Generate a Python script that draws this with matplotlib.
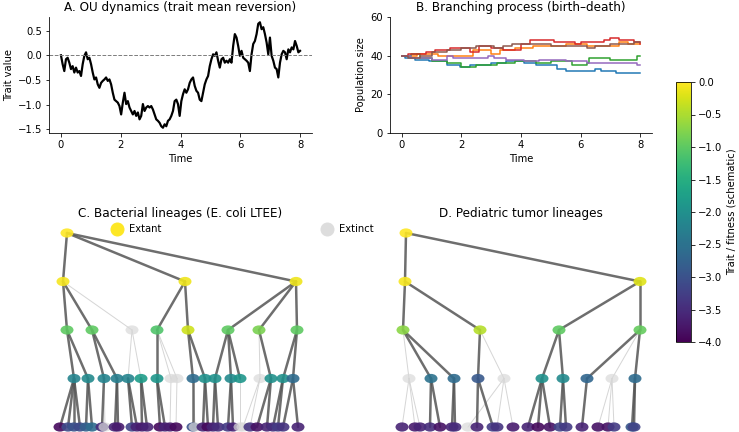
import numpy as np
import matplotlib
matplotlib.use("Agg")
import matplotlib.pyplot as plt
from matplotlib.patches import Ellipse
from matplotlib.lines import Line2D

# --- A: OU trait path (evenly spaced in time) ---
ou_values = [0.0, -0.18, -0.32, -0.08, -0.05, -0.15, -0.28, -0.22, -0.35, -0.25, -0.35, -0.32,
             -0.42, -0.18, -0.01, 0.06, -0.08, -0.05, -0.18, -0.35, -0.49, -0.45, -0.59, -0.66,
             -0.56, -0.52, -0.49, -0.45, -0.52, -0.49, -0.59, -0.76, -0.9, -0.93, -0.96, -1.03,
             -1.2, -0.96, -0.76, -0.99, -0.93, -1.06, -1.13, -1.2, -1.13, -1.23, -1.16, -1.3,
             -1.23, -0.99, -1.13, -1.06, -1.03, -1.06, -1.03, -1.1, -1.2, -1.3, -1.33, -1.37,
             -1.44, -1.47, -1.4, -1.44, -1.33, -1.3, -1.23, -1.13, -0.93, -0.9, -0.99, -1.23,
             -0.93, -0.79, -0.69, -0.76, -0.69, -0.56, -0.49, -0.45, -0.62, -0.72, -0.76, -0.9,
             -0.93, -0.76, -0.59, -0.49, -0.42, -0.22, -0.08, 0.02, -0.01, 0.06, -0.11, -0.25,
             -0.08, -0.05, -0.15, -0.11, -0.15, -0.08, -0.15, 0.19, 0.43, 0.36, 0.19, -0.01,
             0.09, -0.05, -0.08, -0.11, -0.15, -0.32, 0.02, 0.23, 0.29, 0.43, 0.64, 0.67, 0.53,
             0.57, 0.43, 0.26, 0.02, 0.36, -0.01, -0.11, -0.25, -0.28, -0.45, -0.15, 0.02, 0.09,
             0.06, -0.08, 0.12, 0.06, 0.16, 0.12, 0.29, 0.19, 0.06, 0.09]
ou_time = np.linspace(0, 8, len(ou_values))

# --- B: birth-death population sizes (change points, step plot) ---
bd_blue_t = [0, 0.1, 0.45, 0.9, 1.5, 1.95, 2.3, 3.0, 3.5, 4.1, 4.5, 5.2, 5.5, 6.5, 6.7, 7.2, 8.0]
bd_blue_n = [40, 39, 38, 37, 35, 34, 35, 36, 37, 36, 35, 33, 32, 33, 32, 31, 31]
bd_orange_t = [0, 0.5, 1.2, 2.4, 3.0, 3.3, 3.8, 4.4, 5.5, 6.2, 7.3, 7.6, 8.0]
bd_orange_n = [40, 41, 40, 43, 41, 43, 44, 45, 46, 45, 47, 46, 46]
bd_green_t = [0, 0.3, 0.6, 1.0, 1.5, 2.0, 2.5, 3.2, 3.8, 4.5, 5.0, 5.7, 6.2, 6.3, 7.0, 7.9, 8.0]
bd_green_n = [40, 41, 39, 37, 36, 34, 35, 36, 37, 36, 37, 35, 36, 39, 38, 40, 40]
bd_red_t = [0, 0.2, 0.8, 1.1, 1.6, 2.3, 2.6, 3.0, 3.4, 4.0, 4.3, 5.1, 5.8, 6.0, 6.8, 7.0, 7.3, 7.8, 8.0]
bd_red_n = [40, 41, 42, 43, 44, 42, 45, 44, 43, 46, 48, 47, 46, 47, 48, 49, 48, 47, 46]
bd_purple_t = [0, 0.3, 1.0, 1.5, 1.7, 2.9, 3.1, 3.5, 4.1, 4.6, 5.5, 6.2, 7.9, 8.0]
bd_purple_n = [40, 39, 38, 40, 39, 40, 39, 38, 37, 38, 37, 36, 35, 35]
bd_brown_t = [0, 0.2, 0.6, 1.0, 1.5, 2.0, 2.5, 3.1, 3.4, 3.7, 5.0, 6.2, 6.5, 7.0, 7.8, 8.0]
bd_brown_n = [40, 39, 40, 42, 43, 44, 45, 44, 45, 46, 45, 44, 45, 46, 47, 47]

# --- C: bacterial lineage tree (layout x, depth, parent index, trait; nan = extinct) ---
nan = np.nan
c_x = [67, 63, 185, 296, 67, 92, 132, 157, 188, 228, 259, 297,
       74, 88, 104, 117, 128, 141, 157, 171, 177, 193, 205, 215, 231, 240, 260, 271, 283, 293,
       60, 68, 74, 80, 86, 92, 102, 105, 115, 118, 132, 137, 142, 147, 160, 165, 170, 176,
       193, 195, 203, 208, 213, 218, 228, 233, 240, 243, 250, 257, 267, 273, 278, 283, 298]
c_depth = [0, 1, 1, 1, 2, 2, 2, 2, 2, 2, 2, 2] + [3] * 18 + [4] * 35
c_parent = [-1, 0, 0, 0, 1, 1, 1, 2, 2, 3, 3, 3,
            4, 4, 5, 5, 6, 6, 7, 7, 7, 8, 8, 9, 9, 9, 10, 10, 11, 11,
            12, 12, 12, 12, 13, 13, 14, 14, 15, 15, 16, 16, 17, 17, 18, 18, 19, 20,
            21, 21, 22, 22, 23, 23, 24, 24, 25, 26, 26, 27, 27, 28, 28, 29, 29]
c_trait = [0.0, -0.05, -0.1, -0.1, -1.0, -1.0, nan, -1.1, -0.3, -1.0, -0.8, -1.0,
           -2.2, -2.1, -2.2, -2.3, -2.2, -1.8, -1.9, nan, nan, -2.6, -2.0, -2.0, -2.1, -1.9,
           nan, -2.0, -2.0, -2.6,
           -3.9, -3.1, -3.0, -3.1, -2.8, -2.6, -3.5, nan, -3.6, -3.7, -3.2, -3.6, -3.7, -3.6,
           -3.9, -3.6, -3.7, -3.9, -3.0, nan, -3.6, -3.9, -3.6, -3.5, -3.3, -3.6, nan, nan,
           -3.4, -3.8, -3.6, -3.5, -3.3, -3.4, -3.6]

# --- D: pediatric tumor tree ---
d_x = [406, 405, 640, 403, 480, 559, 640,
       409, 431, 454, 478, 504, 542, 563, 587, 612, 635,
       402, 415, 420, 430, 440, 452, 455, 468, 477, 493, 497, 513, 528, 538, 550, 560, 566,
       582, 598, 608, 614, 632, 634]
d_depth = [0, 1, 1, 2, 2, 2, 2] + [3] * 10 + [4] * 23
d_parent = [-1, 0, 0, 1, 1, 2, 2,
            3, 3, 3, 4, 4, 5, 5, 6, 6, 6,
            7, 7, 7, 8, 8, 9, 9, 11, 10, 10, 11, 11, 12, 12, 12, 13, 13,
            14, 15, 15, 15, 16, 16]
d_trait = [0.0, -0.05, -0.2, -0.7, -0.45, -1.0, -0.95,
           nan, -2.5, -2.6, -2.9, nan, -2.0, -2.1, -2.7, nan, -2.6,
           -3.6, -3.7, -3.6, -3.5, -3.8, -3.6, -3.5, nan, -3.6, -3.3, -3.4, -3.7, -3.6, -3.9,
           -3.8, -3.2, -3.3, -3.6, -3.8, -3.8, -3.3, -2.9, -3.2]

cmap = plt.get_cmap('viridis')
norm = plt.Normalize(-4, 0)

fig = plt.figure(figsize=(739 / 72, 432 / 72), dpi=72)

# top left: OU
ax_a = fig.add_axes([49 / 739, 1 - 133 / 432, 263 / 739, 116 / 432])
ax_a.plot(ou_time, ou_values, color='black', lw=2.2)
ax_a.axhline(0, color='gray', ls='--', lw=1)
ax_a.set_title('A. OU dynamics (trait mean reversion)')
ax_a.set_xlabel('Time')
ax_a.set_ylabel('Trait value')
ax_a.set_yticks([-1.5, -1.0, -0.5, 0.0, 0.5])

# top right: branching process
ax_b = fig.add_axes([390 / 739, 1 - 133 / 432, 262 / 739, 116 / 432])
for tt, nn in [(bd_blue_t, bd_blue_n), (bd_orange_t, bd_orange_n), (bd_green_t, bd_green_n),
               (bd_red_t, bd_red_n), (bd_purple_t, bd_purple_n), (bd_brown_t, bd_brown_n)]:
    ax_b.plot(tt, nn, drawstyle='steps-post', lw=1.5)
ax_b.set_ylim(0, 60)
ax_b.set_title('B. Branching process (birth\u2013death)')
ax_b.set_xlabel('Time')
ax_b.set_ylabel('Population size')

for ax in (ax_a, ax_b):
    ax.spines['top'].set_visible(False)
    ax.spines['right'].set_visible(False)
    ax.set_xticks([0, 2, 4, 6, 8])


def draw_tree(ax, xs, depth, parent, trait):
    # edges first: dark when both ends survive, faint otherwise
    for i in range(len(xs)):
        p = parent[i]
        if p < 0:
            continue
        alive = not (np.isnan(trait[i]) or np.isnan(trait[p]))
        if alive:
            ax.plot([xs[p], xs[i]], [-depth[p], -depth[i]], color='#555555', lw=2.5,
                    alpha=0.85, zorder=2, solid_capstyle='round')
        else:
            ax.plot([xs[p], xs[i]], [-depth[p], -depth[i]], color='#cccccc', lw=1,
                    alpha=0.8, zorder=1)
    for i in range(len(xs)):
        if np.isnan(trait[i]):
            fc, a = '#d9d9d9', 0.7
        else:
            fc, a = cmap(norm(trait[i])), 0.9
        ax.add_patch(Ellipse((xs[i], -depth[i]), 13, 0.19, facecolor=fc, edgecolor='none',
                             alpha=a, zorder=3))
    ax.set_ylim(-4.103, 0.206)
    ax.axis('off')


ax_c = fig.add_axes([49 / 739, 0, 263 / 739, 1 - 223 / 432])
draw_tree(ax_c, c_x, c_depth, c_parent, c_trait)
ax_c.set_xlim(49, 312)
ax_c.set_title('C. Bacterial lineages (E. coli LTEE)')

ax_d = fig.add_axes([390 / 739, 0, 262 / 739, 1 - 223 / 432])
draw_tree(ax_d, d_x, d_depth, d_parent, d_trait)
ax_d.set_xlim(390, 652)
ax_d.set_title('D. Pediatric tumor lineages')

# legend for extant / extinct
handles = [Line2D([], [], ls='none', marker='o', markersize=13, color=cmap(1.0)),
           Line2D([], [], ls='none', marker='o', markersize=13, color='#dddddd')]
fig.legend(handles, ['Extant', 'Extinct'], ncol=2, loc='center left', frameon=False,
           bbox_to_anchor=(102 / 739, 1 - 229 / 432), handlelength=1.2, handletextpad=0.6,
           columnspacing=16)

# colorbar
cax = fig.add_axes([676 / 739, 1 - 342 / 432, 15 / 739, 260 / 432])
sm = plt.cm.ScalarMappable(norm=norm, cmap=cmap)
cb = fig.colorbar(sm, cax=cax)
cb.set_label('Trait / fitness (schematic)')

fig.savefig('out.png', dpi=72)
